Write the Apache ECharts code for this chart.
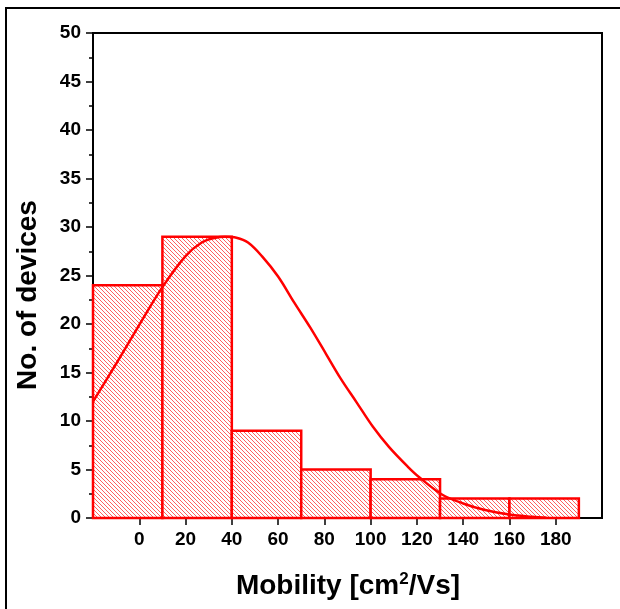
<!DOCTYPE html>
<html>
<head>
<meta charset="utf-8">
<script src="https://cdn.jsdelivr.net/npm/echarts@6/dist/echarts.min.js"></script>
<style>html,body{margin:0;padding:0;background:#fff;}#c{width:620px;height:609px;}</style>
</head>
<body>
<div id="c"></div>
<script>
// Histogram bins
var binStart = [-20, 10, 40, 70, 100, 130, 160];
var binEnd   = [10, 40, 70, 100, 130, 160, 190];
var counts   = [24, 29, 9, 5, 4, 2, 2];
// Fitted curve
var curveX = [-20, -10, 0, 10, 20, 27, 33, 37, 42, 47, 53, 60, 67, 74, 81, 87, 94, 101, 108, 116, 121, 131, 140, 149, 160, 170, 176];
var curveY = [12.0, 15.9, 19.9, 23.8, 27.0, 28.4, 28.9, 29.0, 28.9, 28.4, 27.0, 24.9, 22.2, 19.6, 16.8, 14.4, 11.9, 9.4, 7.3, 5.3, 4.2, 2.4, 1.5, 0.85, 0.35, 0.12, 0.03];
// Tick labels
var xTicks = [0, 20, 40, 60, 80, 100, 120, 140, 160, 180];
var yTicks = [0, 5, 10, 15, 20, 25, 30, 35, 40, 45, 50];

var hatch = document.createElement('canvas');
var s = 4;
hatch.width = s; hatch.height = s;
var g = hatch.getContext('2d');
g.fillStyle = '#ffffff'; g.fillRect(0, 0, s, s);
g.strokeStyle = '#ff6060'; g.lineWidth = 1;
for (var k = -1; k <= 1; k++) {
  g.beginPath(); g.moveTo(k * s, 0); g.lineTo(k * s + s, s); g.stroke();
}

var barData = binStart.map(function (b, i) { return [b, binEnd[i], counts[i]]; });
var lineData = curveX.map(function (x, i) { return [x, curveY[i]]; });

var chart = echarts.init(document.getElementById('c'));
var font = 'Liberation Sans, Arial, sans-serif';
chart.setOption({
  animation: false,
  backgroundColor: '#fff',
  grid: { left: 93, top: 33, right: 18, bottom: 91, show: true, borderColor: '#000', borderWidth: 2, backgroundColor: 'transparent' },
  xAxis: {
    type: 'value', min: -20, max: 200, interval: 20,
    axisLine: { show: true, onZero: false, lineStyle: { color: '#000', width: 2 } },
    axisTick: { show: true, inside: false, length: 7, lineStyle: { color: '#000', width: 1.5 }, customValues: xTicks },
    axisLabel: { customValues: xTicks, color: '#000', fontFamily: font, fontWeight: 'bold', fontSize: 19, margin: 12 },
    splitLine: { show: false }
  },
  yAxis: {
    type: 'value', min: 0, max: 50, interval: 5,
    axisLine: { show: true, onZero: false, lineStyle: { color: '#000', width: 2 } },
    axisTick: { show: true, inside: false, length: 7, lineStyle: { color: '#000', width: 1.5 }, customValues: yTicks },
    minorTick: { show: true, splitNumber: 2, length: 4, lineStyle: { color: '#000', width: 1.5 } },
    axisLabel: { customValues: yTicks, color: '#000', fontFamily: font, fontWeight: 'bold', fontSize: 19, margin: 12 },
    splitLine: { show: false }
  },
  series: [{
    type: 'custom',
    data: barData,
    encode: { x: [0, 1], y: 2 },
    renderItem: function (params, api) {
      var p0 = api.coord([api.value(0), api.value(2)]);
      var p1 = api.coord([api.value(1), 0]);
      return {
        type: 'rect',
        shape: { x: p0[0], y: p0[1], width: p1[0] - p0[0], height: p1[1] - p0[1] },
        style: { fill: { image: hatch, repeat: 'repeat' }, stroke: '#ff0000', lineWidth: 2.5 }
      };
    },
    z: 2
  }, {
    type: 'line',
    data: lineData,
    smooth: 0.35,
    showSymbol: false,
    lineStyle: { color: '#ff0000', width: 2.5 },
    z: 3
  }],
  graphic: [
    { type: 'rect', shape: { x: 6, y: 8, width: 800, height: 800 }, style: { fill: 'none', stroke: '#000', lineWidth: 2 }, silent: true },
    { type: 'text', x: 28, y: 295, rotation: Math.PI / 2,
      style: { text: 'No. of devices', fill: '#000', font: 'bold 28px ' + font, align: 'center', verticalAlign: 'middle' } },
    { type: 'text', x: 348, y: 586,
      style: { text: 'Mobility [cm{sup|2}/Vs]', fill: '#000', font: 'bold 28px ' + font, align: 'center', verticalAlign: 'middle',
        rich: { sup: { font: 'bold 17px ' + font, fill: '#000', verticalAlign: 'top', padding: [0, 0, 14, 0] } } } }
  ]
});
</script>
</body>
</html>
